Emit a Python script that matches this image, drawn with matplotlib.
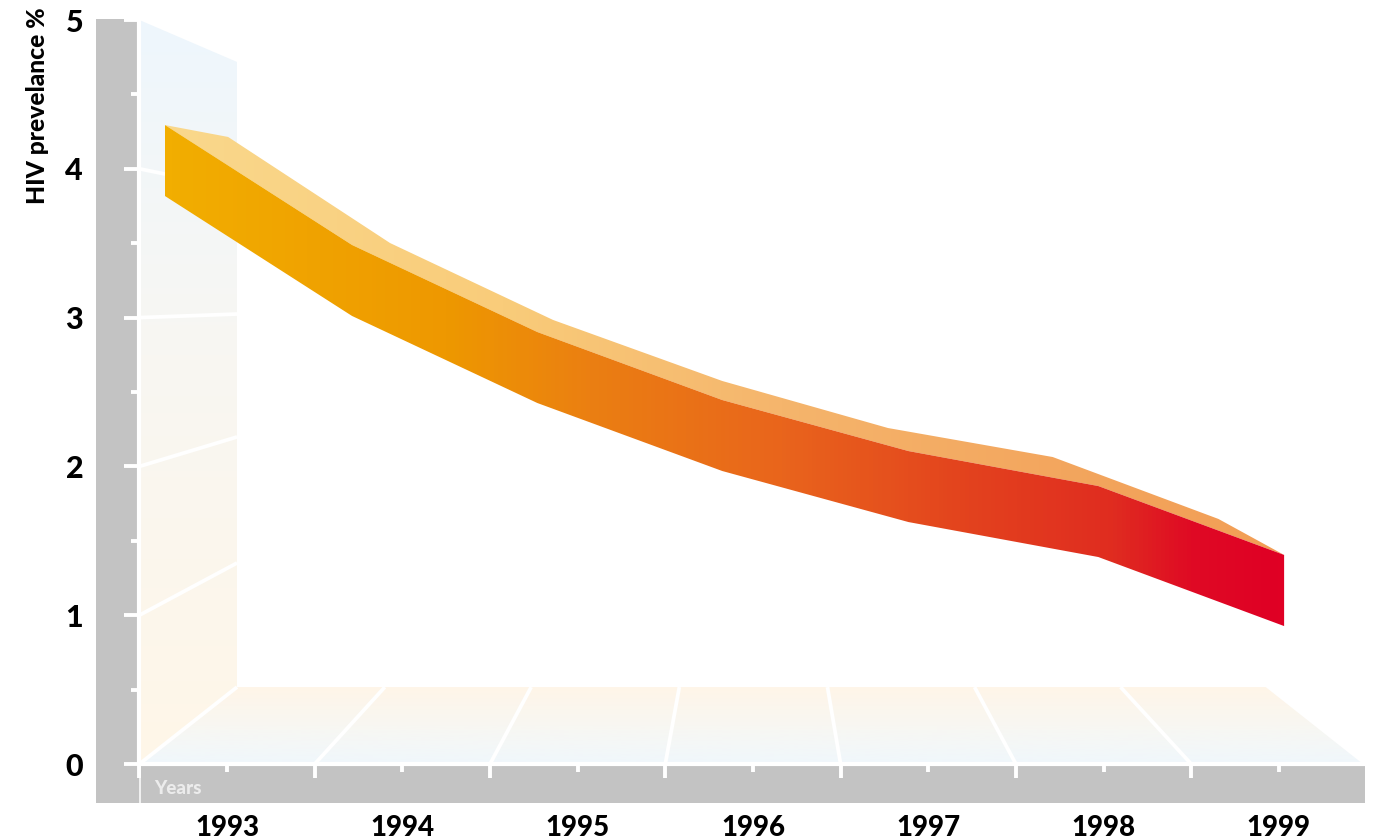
import numpy as np
import matplotlib
matplotlib.use("Agg")
import matplotlib.pyplot as plt
from matplotlib.colors import LinearSegmentedColormap
from matplotlib.patches import Polygon, Rectangle

W, H = 1379, 839
plt.rcParams['font.family'] = ['Lato', 'DejaVu Sans']

# --- data (years on x, prevalence % on y) ---
years = [1993, 1994, 1995, 1996, 1997, 1998, 1999]
year_labels = ['1993', '1994', '1995', '1996', '1997', '1998', '1999']
front_x = [1992.646, 1993.713, 1994.770, 1995.825, 1996.887, 1997.970, 1999.030]
front_top = [4.294, 3.488, 2.903, 2.446, 2.103, 1.868, 1.405]
front_bottom = [3.817, 3.011, 2.426, 1.969, 1.626, 1.391, 0.927]
back_x = [1992.646, 1993.006, 1993.930, 1994.860, 1995.825, 1996.770, 1997.710, 1998.655, 1999.030]
back_top = [4.294, 4.214, 3.501, 2.984, 2.574, 2.258, 2.063, 1.647, 1.405]

y_major = [0, 1, 2, 3, 4, 5]
y_minor = [0.5, 1.5, 2.5, 3.5, 4.5]
x_bounds = [1992.5, 1993.5, 1994.5, 1995.5, 1996.5, 1997.5, 1998.5, 1999.48]

wall_back_x = 1993.057
wall_back_top = 4.718
floor_back_y = 0.517
floor_back_right = 1998.925
wall_grid_values = [1, 2, 3]
wall_grid_back = [1.351, 2.198, 3.024]
wall_grid4_end = (1992.646, 3.965)
floor_grid_front = [1993.5, 1994.5, 1995.5, 1996.5, 1997.5, 1998.5]
floor_grid_back = [1993.90, 1994.735, 1995.58, 1996.425, 1997.264, 1998.097]

# --- figure & axes ---
fig = plt.figure(figsize=(W / 100, H / 100), dpi=100, facecolor='white')
ax = fig.add_axes([139.4 / W, 1 - 764 / H, (1363 - 139.4) / W, (764 - 20) / H])
ax.patch.set_visible(False)

def strip(x0, y0, x1, y1):
    fig.patches.append(Rectangle((x0 / W, 1 - y1 / H), (x1 - x0) / W, (y1 - y0) / H,
                                 transform=fig.transFigure, facecolor='#C3C3C3',
                                 edgecolor='none', zorder=-1))

strip(96, 19, 137, 803)
strip(96, 766, 1365, 803)

def gradient(extent, stops, vertical, clip_xy, z):
    cmap = LinearSegmentedColormap.from_list('g', stops, N=256)
    g = np.linspace(0, 1, 256)
    arr = g.reshape(-1, 1) if vertical else g.reshape(1, -1)
    im = ax.imshow(arr, extent=extent, origin='lower', aspect='auto', cmap=cmap,
                   zorder=z, interpolation='bilinear')
    poly = Polygon(clip_xy, closed=True, transform=ax.transData, facecolor='none', edgecolor='none')
    ax.add_patch(poly)
    im.set_clip_path(poly)
    return im

# wall
wall = [(x_bounds[0], 0), (wall_back_x, floor_back_y), (wall_back_x, wall_back_top), (x_bounds[0], 5)]
gradient((x_bounds[0], wall_back_x, 0, 5),
         [(0, '#FFF6E8'), (0.55, '#F8F7F2'), (1, '#EEF6FD')], True, wall, 0.5)
# floor
floor = [(x_bounds[0], 0), (x_bounds[-1], 0), (floor_back_right, floor_back_y), (wall_back_x, floor_back_y)]
gradient((x_bounds[0], x_bounds[-1], 0, floor_back_y),
         [(0, '#F0F7FC'), (0.5, '#F8F7F2'), (1, '#FFF5E8')], True, floor, 0.5)

# grid lines on wall and floor
grid_kw = dict(color='white', lw=2.7, solid_capstyle='butt', zorder=1)
for v, b in zip(wall_grid_values, wall_grid_back):
    ax.plot([x_bounds[0], wall_back_x], [v, b], **grid_kw)
ax.plot([x_bounds[0], wall_grid4_end[0]], [4, wall_grid4_end[1]], **grid_kw)
ax.plot([x_bounds[0], wall_back_x], [0, floor_back_y], **grid_kw)
for f, b in zip(floor_grid_front, floor_grid_back):
    ax.plot([f, b], [0, floor_back_y], **grid_kw)

# ribbon
stops_x = [(0, '#F2AE00'), (0.25, '#EE9800'), (0.38, '#EB7F12'), (0.55, '#E9651C'),
           (0.72, '#E3421E'), (0.85, '#E02C20'), (0.92, '#DF0A24'), (1, '#E00024')]
stops_top = [(0, '#F9D88C'), (0.3, '#F9CC7A'), (0.55, '#F5B56C'), (0.8, '#F3A65E'), (1, '#F29E55')]
band_ext = (front_x[0], front_x[-1], 0, 5)
top_poly = list(zip(back_x, back_top)) + list(zip(front_x[::-1], front_top[::-1]))
gradient(band_ext, stops_top, False, top_poly, 3)
front_poly = list(zip(front_x, front_top)) + list(zip(front_x[::-1], front_bottom[::-1]))
gradient(band_ext, stops_x, False, front_poly, 4)

ax.set_xlim(x_bounds[0], x_bounds[-1])
ax.set_ylim(0, 5)

# spines and ticks
for s in ('top', 'right'):
    ax.spines[s].set_visible(False)
for s in ('left', 'bottom'):
    ax.spines[s].set_color('white')
    ax.spines[s].set_linewidth(3)
    ax.spines[s].set_zorder(2.5)

ax.set_yticks(y_major)
ax.set_yticks(y_minor, minor=True)
ax.set_yticklabels([str(v) for v in y_major])
ax.tick_params(axis='y', which='major', color='white', width=2.8, length=10.5, pad=30,
               labelsize=22, labelcolor='black')
ax.tick_params(axis='y', which='minor', color='white', width=2.8, length=5.5)
for t in ax.get_yticklabels():
    t.set_fontweight(900)

ax.set_xticks(years)
ax.set_xticklabels(year_labels)
ax.set_xticks(x_bounds[:-1], minor=True)
ax.tick_params(axis='x', which='major', color='white', width=2.8, length=6, pad=31,
               labelsize=20, labelcolor='black')
ax.tick_params(axis='x', which='minor', color='white', width=2.8, length=10)
for t in ax.get_xticklabels():
    t.set_fontweight(900)

# thin continuation of the left axis through the grey strip
fig.add_artist(plt.Line2D([139.5 / W, 139.5 / W], [1 - 764 / H, 1 - 803 / H], color='white', lw=1.1))

fig.text(38 / W, 1 - 106 / H, 'HIV prevelance %', rotation=90, ha='center', va='center',
         fontsize=17.7, fontweight=900, color='black')
fig.text(154 / W, 1 - 788 / H, 'Years', ha='left', va='center', fontsize=13.5,
         fontweight=900, color='#ECECEC')

fig.savefig('out.png', dpi=100, facecolor='white')
